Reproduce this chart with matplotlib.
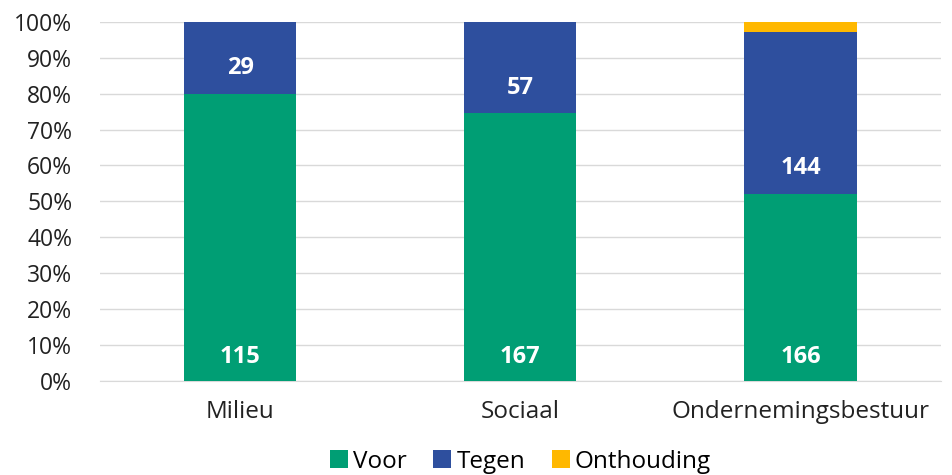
import numpy as np
import matplotlib.pyplot as plt

plt.rcParams['font.family'] = ['Open Sans', 'DejaVu Sans']

categories = ['Milieu', 'Sociaal', 'Ondernemingsbestuur']
voor = np.array([115, 167, 166])
tegen = np.array([29, 57, 144])
onthouding = np.array([0, 0, 9])

totaal = voor + tegen + onthouding
p_voor = voor / totaal * 100
p_tegen = tegen / totaal * 100
p_ont = onthouding / totaal * 100

c_voor = '#009E74'
c_tegen = '#2E4F9E'
c_ont = '#FFB800'

fig = plt.figure(figsize=(9.52, 4.75), dpi=100)
ax = fig.add_axes([0.105, 0.198, 0.883, 0.756])

x = np.arange(len(categories))
w = 0.4
ax.bar(x, p_voor, w, color=c_voor, label='Voor', zorder=3)
ax.bar(x, p_tegen, w, bottom=p_voor, color=c_tegen, label='Tegen', zorder=3)
ax.bar(x, p_ont, w, bottom=p_voor + p_tegen, color=c_ont, label='Onthouding', zorder=3)

# labels near the base of each segment
for i in range(len(x)):
    ax.annotate(str(voor[i]), (x[i], 0), xytext=(0, 17.5), textcoords='offset points',
                ha='center', va='center', color='white', fontsize=17, fontweight='bold', zorder=4)
    ax.annotate(str(tegen[i]), (x[i], p_voor[i]), xytext=(0, 18.5), textcoords='offset points',
                ha='center', va='center', color='white', fontsize=17, fontweight='bold', zorder=4)

ax.set_ylim(0, 100)
ax.set_xlim(-0.5, 2.5)
ax.set_yticks(np.arange(0, 101, 10))
ax.set_yticklabels([f'{v}%' for v in range(0, 101, 10)], fontsize=16.5, color='#222222')
ax.set_xticks(x)
ax.set_xticklabels(categories, fontsize=17.5, color='#222222')
ax.tick_params(length=0, axis='both')
ax.tick_params(axis='y', pad=20)
ax.tick_params(axis='x', pad=14)
ax.grid(axis='y', color='#D9D9D9', linewidth=1, zorder=0)
for s in ['top', 'right', 'left']:
    ax.spines[s].set_visible(False)
ax.spines['bottom'].set_color('#D9D9D9')

ax.legend(loc='center', bbox_to_anchor=(0.5, -0.225), ncol=3, frameon=False,
          fontsize=17.5, handlelength=0.75, handleheight=0.75, handletextpad=0.2,
          columnspacing=1.1, borderpad=0)

fig.savefig('out.png')
